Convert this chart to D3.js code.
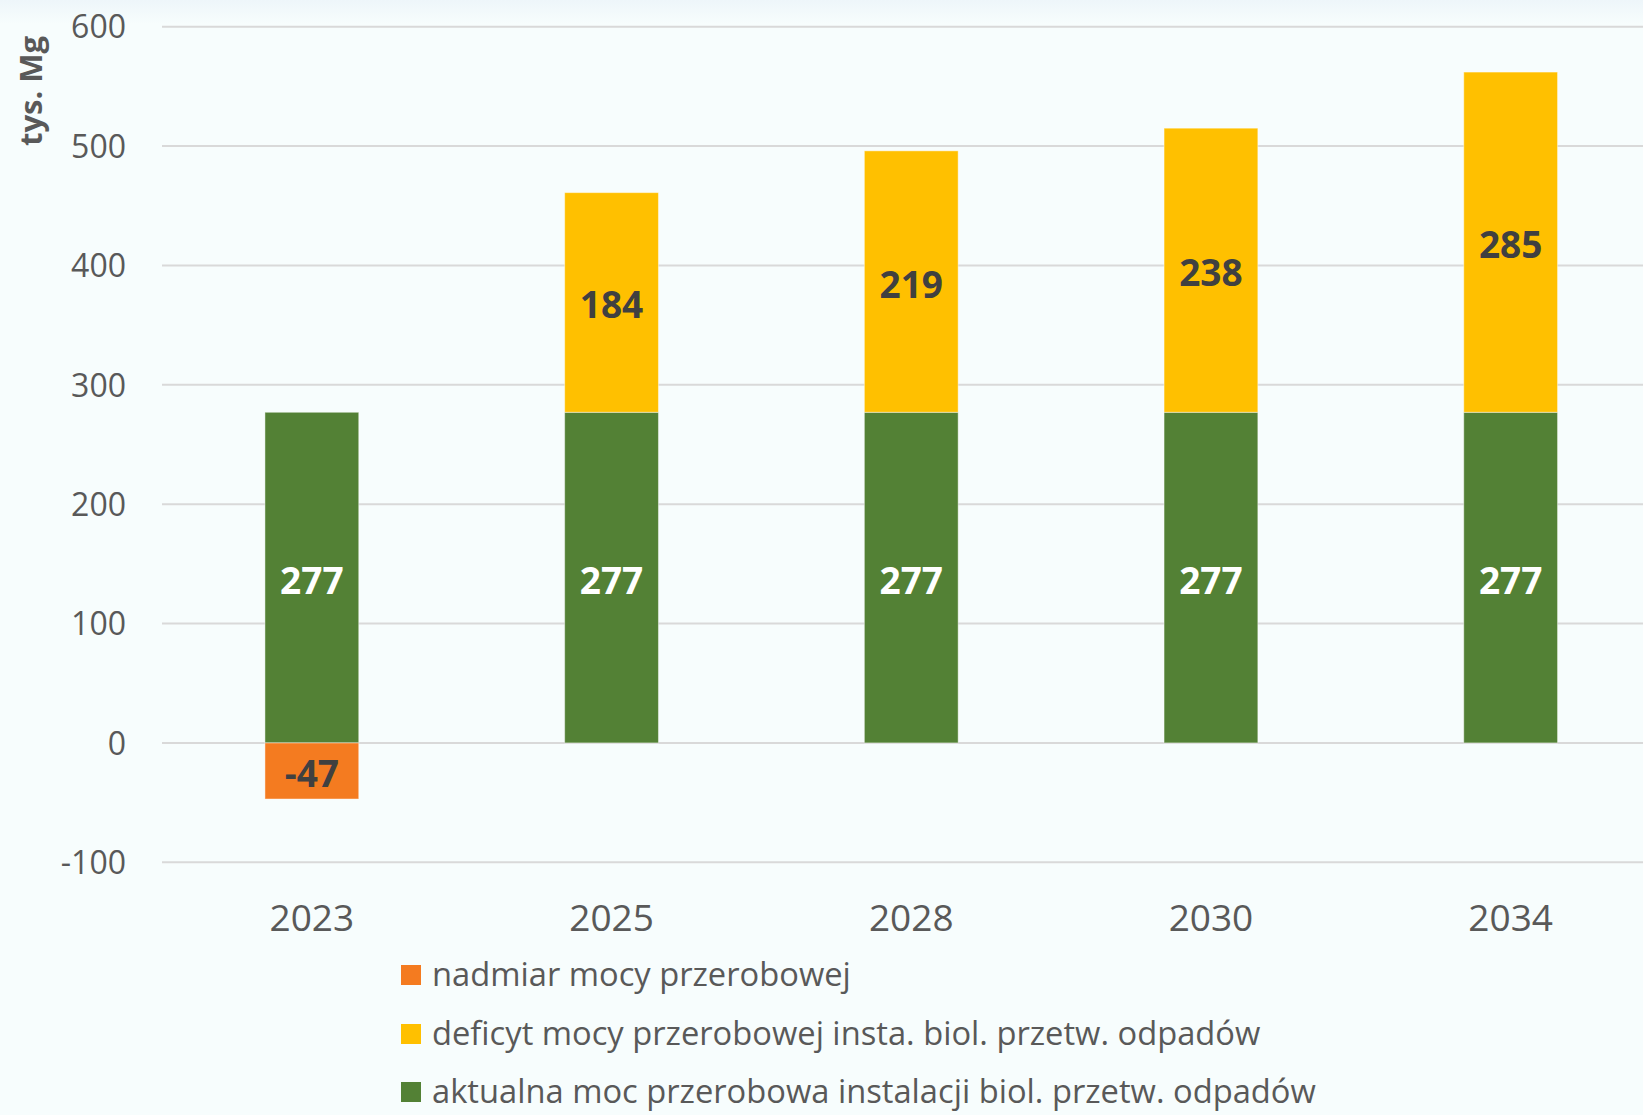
<!DOCTYPE html>
<html>
<head>
<meta charset="utf-8">
<script src="https://cdn.jsdelivr.net/npm/d3@7"></script>
<style>
  html, body { margin: 0; padding: 0; background: #f7fdfd; }
  svg { display: block; font-family: "Open Sans", sans-serif; }
</style>
</head>
<body>
<svg id="chart" width="1643" height="1115"></svg>
<script>
// Years shown on the category axis
const years = ["2023", "2025", "2028", "2030", "2034"];
// Current processing capacity of biological waste-treatment installations (thousand Mg)
const currentCapacity = [277, 277, 277, 277, 277];
// Capacity deficit (thousand Mg)
const capacityDeficit = [0, 184, 219, 238, 285];
// Capacity surplus (thousand Mg, shown below zero)
const capacitySurplus = [-47, 0, 0, 0, 0];
// Value axis ticks
const yTicks = [-100, 0, 100, 200, 300, 400, 500, 600];

const seriesNames = [
  "nadmiar mocy przerobowej",
  "deficyt mocy przerobowej insta. biol. przetw. odpadów",
  "aktualna moc przerobowa instalacji biol. przetw. odpadów"
];
const colors = { surplus: "#f47b20", deficit: "#ffc000", current: "#538135" };

const svg = d3.select("#chart");
const W = 1643, H = 1115;

// soft tint along the top edge
const defs = svg.append("defs");
const grad = defs.append("linearGradient").attr("id", "topTint").attr("x1", 0).attr("x2", 0).attr("y1", 0).attr("y2", 1);
grad.append("stop").attr("offset", "0%").attr("stop-color", "#eef6fa");
grad.append("stop").attr("offset", "100%").attr("stop-color", "#f7fdfd");
svg.append("rect").attr("width", W).attr("height", H).attr("fill", "#f7fdfd");
svg.append("rect").attr("width", W).attr("height", 24).attr("fill", "url(#topTint)");

const plotLeft = 162, step = 299.7;
const x = d3.scaleBand().domain(years).range([plotLeft, plotLeft + step * years.length]).paddingInner(0.687).paddingOuter(0.3435);
const y = d3.scaleLinear().domain([-100, 600]).range([862.3, 26.7]);

// gridlines
svg.append("g").selectAll("line").data(yTicks).join("line")
  .attr("x1", plotLeft).attr("x2", W)
  .attr("y1", d => y(d)).attr("y2", d => y(d))
  .attr("stroke", "#d9d9d9").attr("stroke-width", 2);

// y tick labels (plain hyphen for negatives)
const yAxis = d3.axisLeft(y).tickValues(yTicks).tickFormat(d => String(d)).tickSize(0).tickPadding(0);
const gy = svg.append("g").attr("transform", "translate(126,0)").call(yAxis);
gy.select(".domain").remove();
gy.selectAll("text").attr("font-size", 32).attr("fill", "#595959").attr("font-family", "Open Sans").attr("dy", "0.35em");

// x tick labels
const xAxis = d3.axisBottom(x).tickSize(0).tickPadding(0);
const gx = svg.append("g").attr("transform", "translate(0,918)").call(xAxis);
gx.select(".domain").remove();
gx.selectAll("text").attr("font-size", 37).attr("fill", "#595959").attr("font-family", "Open Sans").attr("dy", "0.35em");

// stacked segments
const segments = [];
years.forEach((yr, i) => {
  segments.push({ year: yr, y0: 0, y1: currentCapacity[i], v: currentCapacity[i], key: "current" });
  if (capacityDeficit[i]) segments.push({ year: yr, y0: currentCapacity[i], y1: currentCapacity[i] + capacityDeficit[i], v: capacityDeficit[i], key: "deficit" });
  if (capacitySurplus[i]) segments.push({ year: yr, y0: 0, y1: capacitySurplus[i], v: capacitySurplus[i], key: "surplus" });
});

svg.append("g").selectAll("rect").data(segments).join("rect")
  .attr("x", d => x(d.year))
  .attr("width", x.bandwidth())
  .attr("y", d => y(Math.max(d.y0, d.y1)))
  .attr("height", d => Math.abs(y(d.y0) - y(d.y1)))
  .attr("fill", d => colors[d.key])
  .attr("stroke", "rgba(255,255,255,0.45)").attr("stroke-width", 1);

svg.append("g").selectAll("text").data(segments).join("text")
  .attr("x", d => x(d.year) + x.bandwidth() / 2)
  .attr("y", d => y((d.y0 + d.y1) / 2) + 3)
  .attr("dy", "0.35em")
  .attr("text-anchor", "middle")
  .attr("font-size", 37).attr("font-weight", "bold")
  .attr("fill", d => d.key === "current" ? "#ffffff" : "#404040")
  .text(d => d.v);

// axis title
svg.append("text")
  .attr("transform", "translate(31,91) rotate(-90)")
  .attr("text-anchor", "middle").attr("dy", "0.35em")
  .attr("font-size", 31).attr("font-weight", "bold").attr("fill", "#595959")
  .text("tys. Mg");

// legend
const legendRows = [
  { name: seriesNames[0], color: colors.surplus, y: 975 },
  { name: seriesNames[1], color: colors.deficit, y: 1034 },
  { name: seriesNames[2], color: colors.current, y: 1092 }
];
const lg = svg.append("g").selectAll("g").data(legendRows).join("g")
  .attr("transform", d => `translate(401,${d.y})`);
lg.append("rect").attr("x", 0).attr("y", -10).attr("width", 20).attr("height", 20).attr("fill", d => d.color);
lg.append("text").attr("x", 31).attr("dy", "0.35em")
  .attr("font-size", 32.7).attr("fill", "#595959")
  .text(d => d.name);
</script>
</body>
</html>
